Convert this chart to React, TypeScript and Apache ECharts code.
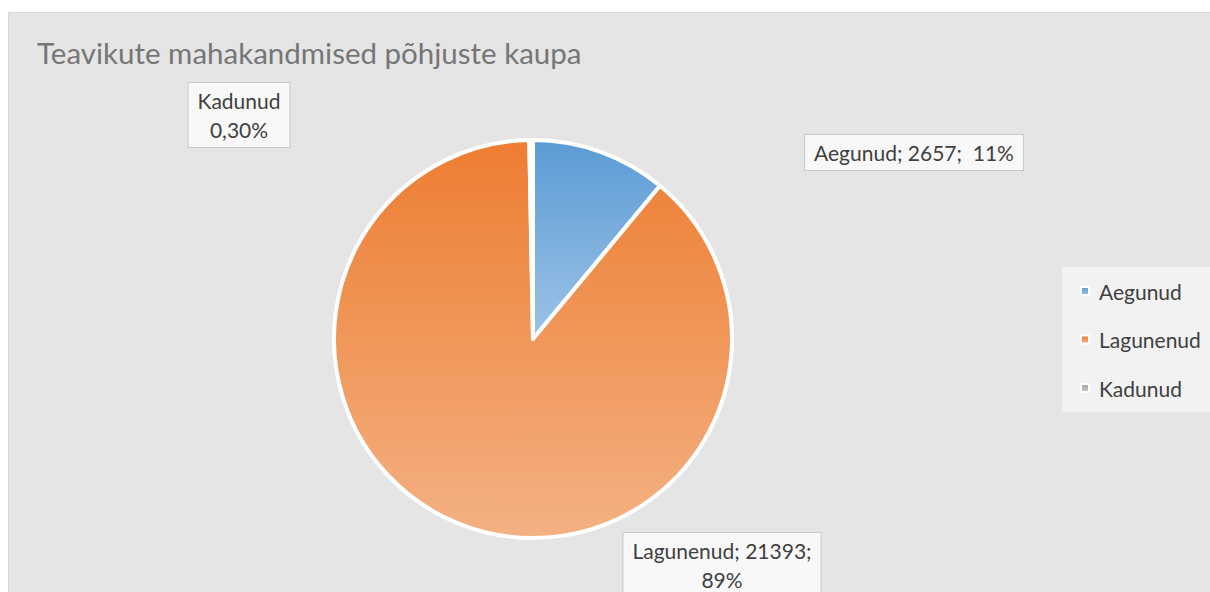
import React, { useEffect, useRef } from "react";
import * as echarts from "echarts";

const titleText = "Teavikute mahakandmised põhjuste kaupa";
const categories = ["Aegunud", "Lagunenud", "Kadunud"];
const values = [2657, 21393, 72];
const percentLabels = ["11%", "89%", "0,30%"];
const labelFormats = ["{name}; {value};  {pct}", "{name}; {value};\n{pct}", "{name}\n{pct}"];
const gradientTop = ["#5b9bd5", "#ed7d31", "#a5a5a5"];
const gradientBottom = ["#9dc3e6", "#f4b183", "#c9c9c9"];

// label box anchor points (top-centre), chart coordinates
const labelAnchors = [
  { x: 905, y: 122 },
  { x: 713, y: 520 },
  { x: 230, y: 70 },
];

const FONT = "Lato, 'Open Sans', sans-serif";

export default function App() {
  const ref = useRef<HTMLDivElement>(null);
  useEffect(() => {
    if (!ref.current) return;
    const chart = echarts.init(ref.current, null, { renderer: "svg" });
    const data = categories.map((name, i) => ({
      name,
      value: values[i],
      itemStyle: {
        color: new echarts.graphic.LinearGradient(0, 0, 0, 1, [
          { offset: 0, color: gradientTop[i] },
          { offset: 1, color: gradientBottom[i] },
        ]),
      },
    }));
    chart.setOption({
      animation: false,
      color: gradientTop,
      title: {
        text: titleText,
        left: 23,
        top: 19,
        textStyle: {
          fontFamily: FONT,
          fontSize: 29.5,
          fontWeight: "normal",
          color: "#767676",
        },
      },
      legend: {
        orient: "vertical",
        left: 1053,
        top: 254,
        data: categories,
        backgroundColor: "#f2f2f2",
        padding: [13, 20, 13, 18],
        itemGap: 26.5,
        itemWidth: 8,
        itemHeight: 8,
        icon: "rect",
        itemStyle: { borderColor: "#ffffff", borderWidth: 2 },
        textStyle: {
          fontFamily: FONT,
          fontSize: 21,
          lineHeight: 22,
          color: "#404040",
          padding: [0, 0, 0, 5],
        },
      },
      series: [
        {
          type: "pie",
          center: [524, 326],
          radius: 199,
          startAngle: 90,
          clockwise: true,
          data,
          itemStyle: { borderColor: "#ffffff", borderWidth: 4 },
          labelLine: { show: false },
          label: {
            show: true,
            position: "outside",
            fontFamily: FONT,
            fontSize: 21,
            lineHeight: 29,
            color: "#404040",
            backgroundColor: "#f8f8f8",
            borderColor: "#c8c8c8",
            borderWidth: 1,
            padding: [3, 9],
            align: "center",
            formatter: (p: any) =>
              labelFormats[p.dataIndex]
                .replace("{name}", p.name)
                .replace("{value}", String(p.value))
                .replace("{pct}", percentLabels[p.dataIndex]),
          },
          labelLayout: (params: any) => {
            const a = labelAnchors[params.dataIndex];
            return { x: a.x, y: a.y, align: "center", verticalAlign: "top" };
          },
        },
      ],
    });
    return () => chart.dispose();
  }, []);
  return (
    <div
      style={{
        position: "absolute",
        left: 8,
        top: 12,
        width: 1202,
        height: 580,
        overflow: "hidden",
        background: "#e5e5e5",
        borderTop: "1px solid #d9d9d9",
        borderLeft: "1px solid #d9d9d9",
        boxSizing: "border-box",
      }}
    >
      <div ref={ref} style={{ width: 1202, height: 580 }} />
    </div>
  );
}
